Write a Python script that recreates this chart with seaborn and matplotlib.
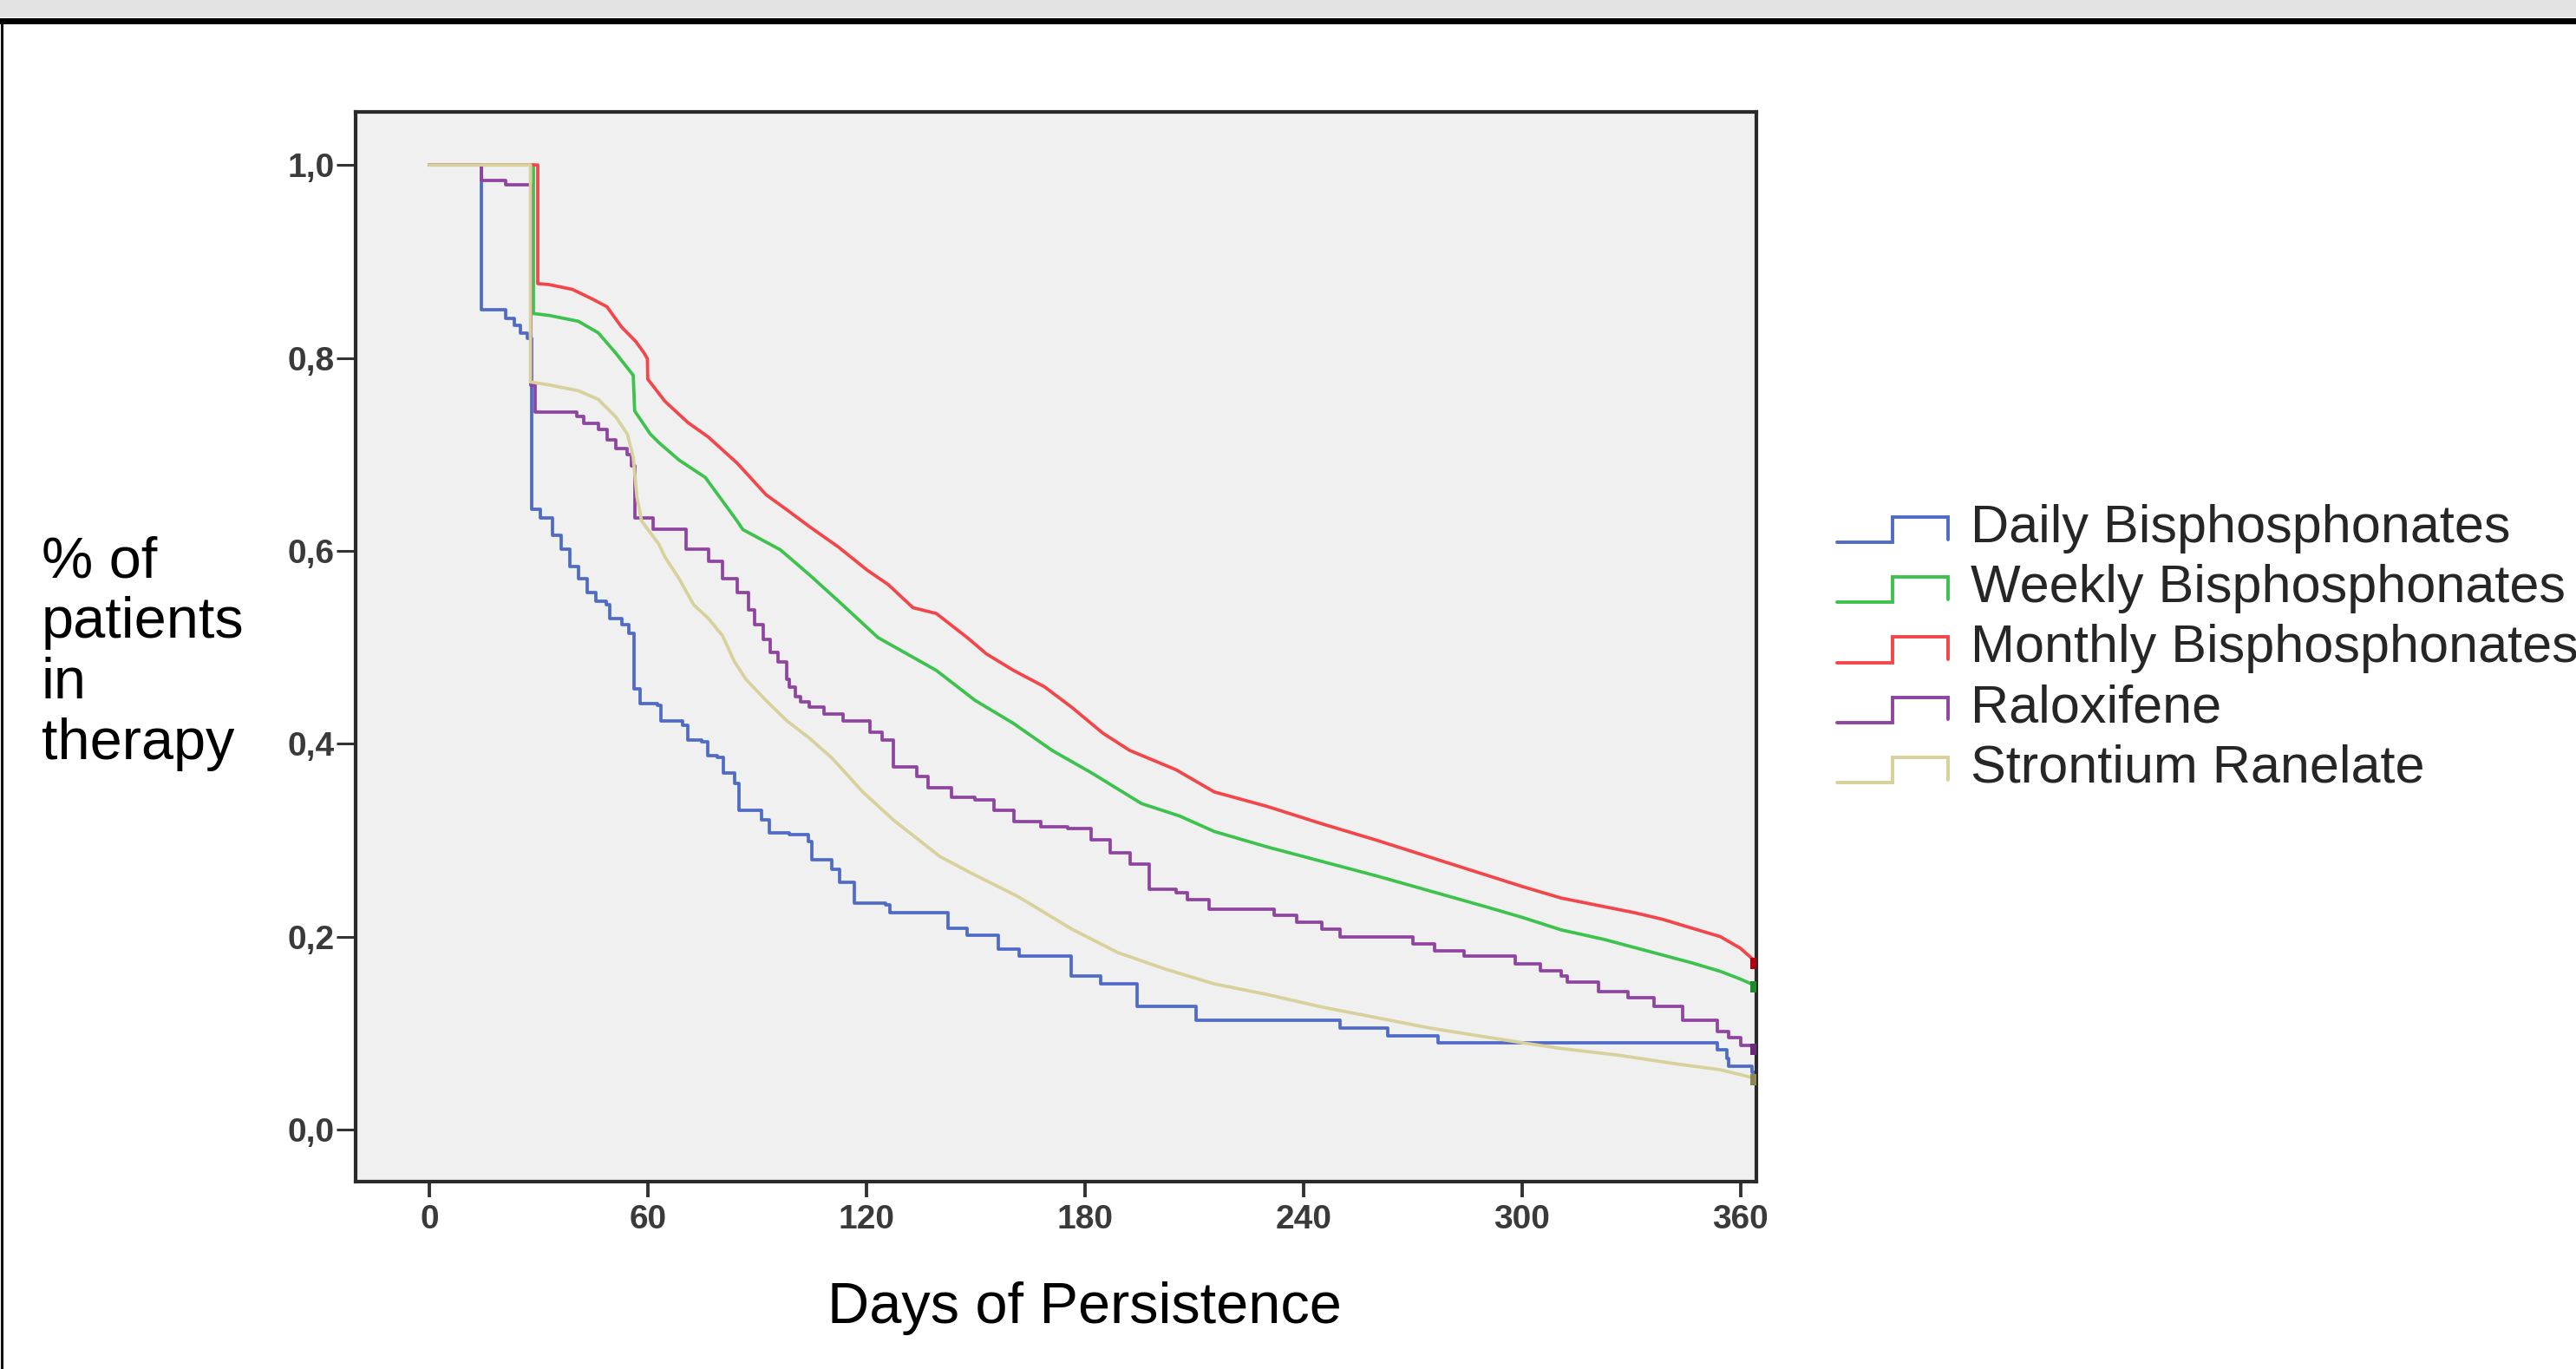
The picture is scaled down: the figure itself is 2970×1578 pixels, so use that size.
import matplotlib
matplotlib.use("Agg")
import matplotlib.pyplot as plt
import seaborn as sns
import pandas as pd
from matplotlib.lines import Line2D
from matplotlib.legend_handler import HandlerBase
from matplotlib.patches import Rectangle

# ---------------- data ----------------
groups = ["Daily Bisphosphonates", "Weekly Bisphosphonates", "Monthly Bisphosphonates",
          "Raloxifene", "Strontium Ranelate"]

daily_days = [0, 14.3, 21.0, 23.3, 25.0, 27.0, 28.1, 30.5, 33.8, 36.2, 38.5, 40.9, 43.3, 45.7,
              48.5, 49.6, 52.8, 54.8, 56.3, 57.8, 62.6, 63.7, 69.5, 71.1, 74.9, 76.4, 79.0, 80.7,
              83.8, 85.0, 91.3, 93.4, 98.8, 104.0, 105.1, 110.4, 112.6, 116.8, 125.3, 126.4,
              142.4, 147.7, 156.2, 162.0, 176.3, 184.3, 194.4, 210.4, 250.0, 263.0, 277.0,
              353.6, 356.3, 356.7, 363.0, 364.3]
daily_surv = [1.0, 0.850, 0.841, 0.834, 0.826, 0.820, 0.643, 0.634, 0.616, 0.602, 0.584, 0.571,
              0.557, 0.548, 0.544, 0.530, 0.523, 0.514, 0.457, 0.442, 0.440, 0.424, 0.419, 0.404,
              0.402, 0.388, 0.386, 0.370, 0.359, 0.331, 0.321, 0.308, 0.306, 0.299, 0.280, 0.270,
              0.256, 0.235, 0.233, 0.225, 0.209, 0.201, 0.187, 0.180, 0.159, 0.151, 0.128, 0.113,
              0.105, 0.097, 0.090, 0.083, 0.074, 0.066, 0.059, 0.059]

weekly_days = [0, 28.6, 28.6, 32.9, 40.9, 46.4, 51.2, 56.0, 56.4, 60.7, 63.1, 68.6, 75.8, 84.5,
               86.1, 96.4, 104.4, 112.3, 123.2, 139.2, 149.8, 160.4, 171.0, 181.7, 195.5, 206.0,
               215.5, 230.0, 245.0, 260.0, 275.0, 290.0, 300.0, 310.7, 322.6, 334.5, 346.4,
               354.4, 359.9, 363.5, 364.3]
weekly_surv = [1.0, 1.0, 0.846, 0.844, 0.838, 0.826, 0.805, 0.782, 0.745, 0.721, 0.712, 0.694,
               0.676, 0.631, 0.622, 0.601, 0.575, 0.548, 0.510, 0.476, 0.445, 0.421, 0.393, 0.370,
               0.338, 0.325, 0.309, 0.293, 0.278, 0.263, 0.247, 0.231, 0.220, 0.207, 0.197, 0.185,
               0.173, 0.164, 0.156, 0.150, 0.148]

monthly_days = [0, 29.8, 29.8, 32.9, 39.3, 44.8, 48.8, 52.8, 56.7, 59.0, 59.9, 60.0, 64.7, 71.0,
                76.6, 84.5, 92.5, 98.0, 104.4, 112.3, 120.2, 126.0, 132.8, 139.2, 147.7, 153.0,
                160.4, 168.9, 176.3, 184.9, 192.3, 205.0, 215.5, 230.0, 245.0, 260.0, 275.0,
                290.0, 300.0, 310.7, 322.6, 330.6, 338.5, 346.4, 354.4, 359.9, 363.5, 364.3]
monthly_surv = [1.0, 1.0, 0.877, 0.876, 0.871, 0.861, 0.853, 0.832, 0.817, 0.805, 0.799, 0.778,
                0.755, 0.733, 0.718, 0.691, 0.658, 0.643, 0.625, 0.604, 0.580, 0.565, 0.541,
                0.535, 0.510, 0.493, 0.476, 0.459, 0.438, 0.411, 0.393, 0.373, 0.350, 0.335,
                0.317, 0.300, 0.282, 0.264, 0.252, 0.240, 0.231, 0.225, 0.218, 0.209, 0.200,
                0.188, 0.176, 0.172]

ralox_days = [0, 14.3, 21.0, 28.0, 29.0, 40.5, 42.5, 46.4, 48.8, 51.2, 54.4, 55.5, 56.4, 61.5,
              70.5, 76.6, 80.5, 84.5, 87.7, 89.3, 91.7, 93.5, 95.7, 98.1, 98.8, 100.5, 101.9,
              104.4, 108.3, 113.6, 121.1, 124.3, 127.4, 133.8, 137.0, 143.4, 149.8, 155.0, 160.4,
              167.9, 175.2, 181.7, 186.9, 192.3, 197.6, 205.0, 208.2, 214.0, 232.0, 238.0, 245.0,
              250.0, 270.0, 276.0, 284.0, 298.0, 305.0, 310.7, 312.3, 321.0, 329.0, 336.1, 344.0,
              353.6, 356.7, 359.9, 363.8, 364.3]
ralox_surv = [1.0, 0.984, 0.979, 0.772, 0.744, 0.739, 0.732, 0.726, 0.715, 0.706, 0.700, 0.688,
              0.634, 0.622, 0.602, 0.589, 0.571, 0.557, 0.539, 0.523, 0.508, 0.495, 0.485, 0.467,
              0.459, 0.449, 0.443, 0.438, 0.431, 0.424, 0.412, 0.404, 0.376, 0.366, 0.354, 0.344,
              0.342, 0.331, 0.319, 0.314, 0.3125, 0.300, 0.287, 0.275, 0.249, 0.2455, 0.2385,
              0.228, 0.222, 0.215, 0.208, 0.200, 0.192, 0.185, 0.180, 0.172, 0.165, 0.159, 0.153,
              0.143, 0.137, 0.128, 0.113, 0.102, 0.095, 0.087, 0.083, 0.083]

stront_days = [0, 27.8, 27.8, 32.9, 40.9, 46.4, 51.2, 54.4, 56.0, 57.0, 58.3, 63.0, 64.8, 68.6,
               72.6, 76.6, 80.5, 83.8, 86.9, 92.4, 98.1, 104.3, 110.6, 119.0, 127.4, 140.2,
               148.7, 161.4, 176.3, 189.0, 202.0, 215.5, 230.0, 245.0, 260.0, 275.0, 290.0,
               300.0, 310.7, 326.6, 342.4, 354.4, 363.0, 364.3]
stront_surv = [1.0, 1.0, 0.775, 0.772, 0.766, 0.757, 0.739, 0.721, 0.697, 0.656, 0.631, 0.607,
               0.593, 0.571, 0.544, 0.530, 0.512, 0.485, 0.467, 0.445, 0.424, 0.406, 0.385,
               0.350, 0.321, 0.283, 0.266, 0.242, 0.208, 0.1835, 0.1664, 0.151, 0.140, 0.127,
               0.116, 0.105, 0.096, 0.090, 0.084, 0.077, 0.068, 0.062, 0.054, 0.052]

y_ticks = [0.0, 0.2, 0.4, 0.6, 0.8, 1.0]
y_tick_labels = ["0,0", "0,2", "0,4", "0,6", "0,8", "1,0"]
x_ticks = [0, 60, 120, 180, 240, 300, 360]
x_tick_labels = ["0", "60", "120", "180", "240", "300", "360"]
ylabel_lines = ["% of", "patients", "in", "therapy"]
xlabel = "Days of Persistence"

# ---------------- styling ----------------
colors = {"Daily Bisphosphonates": "#4f6bc7", "Weekly Bisphosphonates": "#3ec24e",
          "Monthly Bisphosphonates": "#f2464a", "Raloxifene": "#8e44a0",
          "Strontium Ranelate": "#d8d19b"}
censor_colors = {"Weekly Bisphosphonates": "#1d8a2c", "Monthly Bisphosphonates": "#b00010",
                 "Raloxifene": "#6a2a7a", "Strontium Ranelate": "#8e8a55"}
stepped = {"Daily Bisphosphonates": True, "Weekly Bisphosphonates": False,
           "Monthly Bisphosphonates": False, "Raloxifene": True, "Strontium Ranelate": False}

series = {"Daily Bisphosphonates": (daily_days, daily_surv),
          "Weekly Bisphosphonates": (weekly_days, weekly_surv),
          "Monthly Bisphosphonates": (monthly_days, monthly_surv),
          "Raloxifene": (ralox_days, ralox_surv),
          "Strontium Ranelate": (stront_days, stront_surv)}

frames = []
for g, (d, s) in series.items():
    frames.append(pd.DataFrame({"day": d, "S": s, "group": g}))
df = pd.concat(frames, ignore_index=True)

sns.set_theme(style="white")
plt.rcParams["font.family"] = ["Liberation Sans", "DejaVu Sans"]

W, H = 2970, 1578
fig = plt.figure(figsize=(W / 100, H / 100), dpi=100)
fig.patch.set_facecolor("white")
ax = fig.add_axes([410 / W, (H - 1362) / H, (2025 - 410) / W, (1362 - 129) / H])
ax.set_facecolor("#f0f0f0")

draw_order = ["Daily Bisphosphonates", "Weekly Bisphosphonates", "Monthly Bisphosphonates",
              "Raloxifene", "Strontium Ranelate"]
for g in draw_order:
    sub = df[df["group"] == g]
    sns.lineplot(data=sub, x="day", y="S", color=colors[g], linewidth=2.7,
                 estimator=None, sort=False, ax=ax, legend=False,
                 drawstyle="steps-post" if stepped[g] else "default")

ends = df.groupby("group", sort=False).tail(1)
ends = ends[ends["group"].isin(list(censor_colors))]
sns.scatterplot(data=ends, x="day", y="S", hue="group", palette=censor_colors, marker="s",
                s=90, linewidth=0, ax=ax, legend=False, zorder=5)

ax.set_xlim(-20.2, 364.3)
ax.set_ylim(-0.054, 1.055)
ax.set_xticks(x_ticks)
ax.set_xticklabels(x_tick_labels)
ax.set_yticks(y_ticks)
ax.set_yticklabels(y_tick_labels)
ax.set_xlabel("")
ax.set_ylabel("")
for sp in ax.spines.values():
    sp.set_visible(True)
    sp.set_color("#2a2a2a")
    sp.set_linewidth(3.0)
ax.tick_params(axis="x", direction="out", length=13, width=2.8, color="#333333",
               pad=6, labelsize=28, labelcolor="#3a3a3a", bottom=True)
ax.tick_params(axis="y", direction="out", length=16, width=2.2, color="#333333",
               pad=1.5, labelsize=28, labelcolor="#3a3a3a", left=True)
for lbl in ax.get_xticklabels() + ax.get_yticklabels():
    lbl.set_fontweight("bold")

# axis titles
baselines = [665, 735, 805, 875]
for txt, yb in zip(ylabel_lines, baselines):
    fig.text(48 / W, (H - yb) / H, txt, ha="left", va="baseline", fontsize=48, color="black")
fig.text(1250 / W, (H - 1525) / H, xlabel, ha="center", va="baseline", fontsize=48,
         color="black")


# legend with step-shaped icons
class StepHandler(HandlerBase):
    def create_artists(self, legend, orig_handle, xdescent, ydescent, width, height,
                       fontsize, trans):
        x0, y0 = -xdescent, -ydescent
        top = y0 + 0.68 * height
        xs = [x0, x0 + 0.5 * width, x0 + 0.5 * width, x0 + width, x0 + width]
        ys = [y0, y0, top, top, y0 + 0.08 * height]
        ln = Line2D(xs, ys, color=orig_handle.get_color(), lw=orig_handle.get_linewidth(),
                    solid_joinstyle="miter")
        ln.set_transform(trans)
        return [ln]


handles = [Line2D([], [], color=colors[g], lw=2.8) for g in groups]
fig.legend(handles, groups, loc="center left", bbox_to_anchor=(2118 / W, (H - 748) / H),
           frameon=False, fontsize=44, handlelength=2.1, handleheight=0.7,
           handletextpad=0.42, labelspacing=0.2, borderpad=0, borderaxespad=0,
           handler_map={Line2D: StepHandler()})

# page frame: grey band, black rule, left edge line
fig.add_artist(Rectangle((0, 1 - 20 / H), 1, 20 / H, transform=fig.transFigure,
                         facecolor="#e3e3e3", edgecolor="none", zorder=0))
fig.add_artist(Line2D([0, 1], [1 - 23.5 / H] * 2, transform=fig.transFigure,
                      color="black", lw=5))
fig.add_artist(Line2D([1.5 / W] * 2, [0, 1 - 26 / H], transform=fig.transFigure,
                      color="#111111", lw=2.2))

fig.savefig("out.png", dpi=100, facecolor="white")
